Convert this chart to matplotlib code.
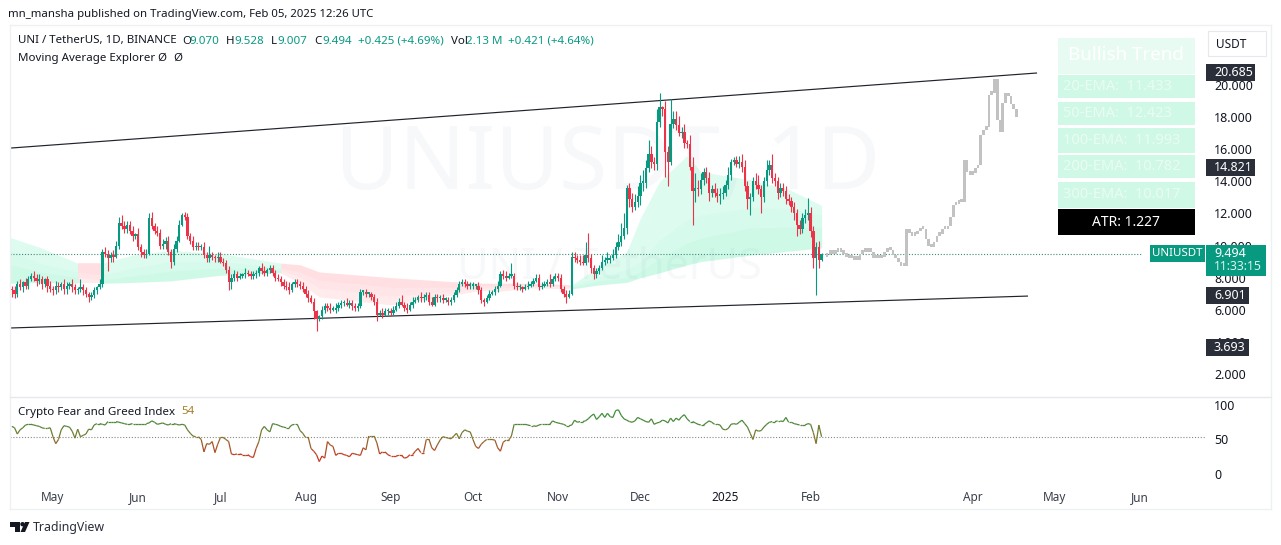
import numpy as np
import matplotlib
matplotlib.use("Agg")
import matplotlib.pyplot as plt
from matplotlib.collections import LineCollection
from matplotlib.colors import LinearSegmentedColormap, Normalize
from matplotlib.patches import Rectangle, Polygon, Circle
from matplotlib.transforms import Affine2D

plt.rcParams['font.family'] = ['Noto Sans', 'DejaVu Sans']

# ---------- data (day number counted from 1 May 2024) ----------
first_day = -15
first_open = 7.3
closes = [
 7.2,7.0,7.6,7.4,7.7,7.5,7.9,8.1,8.0,7.8,
 7.9,7.6,7.9,7.5,7.3,7.2,7.5,7.4,7.6,7.3,
 7.5,7.6,7.4,7.2,7.3,7.4,7.2,7.0,6.8,6.9,
 7.2,7.4,7.6,9.6,9.5,9.2,9.4,9.3,10.0,11.4,
 11.2,11.0,11.3,10.9,10.6,10.7,9.9,9.6,9.4,9.5,
 11.7,11.2,10.9,10.8,10.0,10.1,10.3,9.6,9.0,9.8,
 10.3,11.3,11.9,11.8,10.6,10.3,9.9,10.0,9.9,9.9,
 9.4,9.2,9.4,9.3,9.2,9.3,9.0,8.9,8.5,7.7,
 8.0,8.2,8.0,8.1,8.2,8.3,8.2,8.1,8.2,8.3,
 8.6,8.4,8.3,8.5,8.6,8.3,8.0,7.9,7.7,7.5,
 7.4,7.2,7.6,7.7,7.6,7.5,7.3,7.0,6.7,6.5,
 5.9,5.4,5.6,6.0,6.2,6.1,6.0,6.0,6.1,6.3,
 6.4,6.4,6.3,6.4,6.2,6.1,6.2,7.1,7.1,7.0,
 7.0,6.8,6.5,5.7,5.8,5.7,5.9,5.9,5.8,6.0,
 6.2,6.5,6.3,6.1,6.0,6.3,6.5,6.6,6.8,6.7,
 6.8,6.9,6.5,6.3,6.8,6.7,6.7,6.6,6.6,6.5,
 6.6,6.9,7.2,7.6,7.7,7.6,7.5,7.5,7.5,7.5,
 7.2,6.6,6.5,6.7,7.0,7.1,7.3,7.5,8.2,8.1,
 8.0,8.1,8.1,7.5,7.4,7.4,7.3,7.4,7.5,7.6,
 7.8,8.0,7.4,7.5,7.6,7.7,7.6,7.9,8.1,8.0,
 7.3,7.0,6.8,7.0,9.3,9.2,9.1,9.0,8.9,9.4,
 9.2,8.6,8.2,8.4,8.6,9.0,9.1,9.1,9.2,9.4,
 9.9,10.2,10.6,11.1,13.6,12.9,12.4,12.7,13.1,13.9,
 13.9,14.8,15.7,15.2,15.1,17.7,18.6,18.5,15.8,15.2,
 17.6,17.9,17.5,17.0,17.1,16.4,16.3,14.9,13.4,13.6,
 13.5,14.1,14.6,14.2,13.3,13.5,13.3,13.1,13.2,13.3,
 13.8,14.4,15.2,15.3,15.1,15.2,14.9,13.7,12.9,13.0,
 14.0,13.8,13.5,13.0,14.0,14.7,15.0,14.2,14.0,13.3,
 13.6,13.4,12.9,12.8,12.4,12.0,11.3,11.0,11.7,11.9,
 12.0,10.9,9.2,9.9,9.07,9.494]
wick_up = [
 .2,.3,.2,.3,.1,.3,.2,.2,.3,.2,
 .3,.2,.1,.2,.3,.2,.3,.2,.1,.3,
 .2,.1,.3,.2,.1,.5,.2,.2,.1,.2,
 .2,.1,.3,.2,.3,.2,.2,.3,.3,.4,
 .5,.3,.2,.2,.3,.1,.4,.2,.2,.3,
 .3,.4,.2,.3,.2,.3,.2,.3,.2,.3,
 .3,.3,.1,.2,.2,.2,.3,.2,.2,.2,
 .3,.2,.6,.2,.1,.3,.3,.2,.2,.2,
 .2,.3,.2,.2,.1,.3,.2,.2,.2,.2,
 .1,.3,.3,.1,.2,.2,.2,.2,.2,.2,
 .3,.3,.1,.2,.2,.2,.2,.2,.2,.2,
 .2,.1,.1,.2,.2,.2,.3,.2,.3,.2,
 .2,.2,.3,.2,.2,.2,.2,.2,.1,.2,
 .1,.1,.2,.2,.2,.3,.2,.2,.2,.2,
 .3,.2,.4,.2,.3,.2,.3,.2,.1,.3,
 .2,.2,.2,.3,.2,.2,.2,.3,.2,.2,
 .2,.2,.2,.2,.2,.2,.2,.2,.2,.1,
 .2,.2,.1,.2,.2,.1,.2,.3,.2,.3,
 .3,.2,.8,.2,.2,.2,.1,.2,.3,.2,
 .2,.2,.2,.2,.2,.2,.5,.2,.2,.2,
 .2,.2,.2,.2,.3,.3,.2,.3,.4,.8,
 1.4,.3,.2,.2,.2,.4,.2,.5,.2,.4,
 .3,.5,.8,.9,.2,.3,.4,.5,.6,.5,
 .8,.5,.9,.5,.3,.8,.9,.1,.5,.4,
 1.5,.5,.5,.6,.3,.5,.2,.6,.6,.9,
 .5,.4,.2,.3,.4,.3,.4,.3,.4,.4,
 .3,.5,.2,.2,.3,.4,.5,.4,.3,.3,
 .3,.5,.6,.3,.3,.6,.3,.7,.3,.3,
 .3,.3,.3,.3,.2,.3,.3,.3,.3,.4,
 .95,.4,.3,.3,.4,.03]
wick_dn = [
 .4,.3,.2,.2,.3,.2,.2,.1,.2,.3,
 .2,.3,.2,.4,.2,.3,.2,.3,.2,.3,
 .3,.2,.3,.2,.2,.2,.3,.2,.3,.2,
 .2,.2,.1,.2,.2,.8,.2,.3,.1,.2,
 .2,.2,.2,.2,.3,.2,.2,.3,.2,.2,
 .1,.2,.2,.2,.2,.2,.3,.2,.4,.2,
 .2,.1,.1,.2,.2,.2,.2,.2,.2,.2,
 .2,.2,.2,.2,.2,.2,.1,.2,.2,.5,
 .4,.2,.2,.1,.1,.2,.1,.2,.2,.2,
 .2,.2,.2,.2,.2,.2,.2,.1,.2,.2,
 .2,.2,.1,.2,.2,.2,.2,.2,.2,.1,
 .5,.7,.1,.2,.2,.2,.2,.1,.2,.2,
 .2,.2,.1,.2,.2,.2,.2,.1,.2,.2,
 .2,.2,.2,.4,.1,.2,.1,.2,.2,.1,
 .1,.1,.1,.2,.2,.1,.2,.1,.1,.2,
 .2,.2,.2,.1,.1,.2,.2,.2,.1,.2,
 .2,.1,.1,.1,.1,.2,.2,.2,.2,.2,
 .2,.2,.3,.1,.1,.1,.2,.2,.1,.2,
 .2,.1,.1,.2,.2,.2,.2,.1,.1,.1,
 .1,.1,.2,.1,.1,.1,.2,.1,.1,.2,
 .2,.2,.4,.1,.1,.2,.2,.2,.1,.1,
 .2,.3,.3,.2,.2,.1,.2,.2,.2,.1,
 .2,.2,.2,.2,.4,.5,.3,.2,.3,.6,
 .5,.3,.2,.4,.4,.4,.3,.4,1.5,1.5,
 .2,.3,.3,.2,.3,.3,.2,.2,2.1,.7,
 .4,.3,.3,.3,.5,.3,.3,.4,.5,.3,
 .2,.3,.3,.2,.2,.3,.3,.3,.6,1.0,
 .2,.3,.3,1.0,.3,.3,.3,.3,.3,.4,
 .3,.3,.3,.3,.3,.4,.7,.3,.2,.3,
 .3,.4,.6,2.3,.5,.06]

ghost_first_day = 282
ghost_first_open = 9.3
ghost_closes = [
 9.4,9.7,9.5,9.6,9.8,9.6,9.5,9.3,9.2,9.2,
 9.1,9.1,9.5,9.6,9.6,9.7,9.6,9.2,9.2,9.2,
 9.3,9.6,9.7,9.7,9.4,9.2,9.0,8.7,8.7,11.0,
 10.8,10.6,10.7,10.9,11.0,11.0,10.4,10.0,9.9,10.2,
 10.6,10.7,11.0,11.0,11.2,11.8,12.5,12.6,12.7,12.7,
 15.3,14.6,14.4,14.5,14.8,15.0,16.9,17.2,17.4,19.4,
 19.5,20.4,17.8,17.1,18.9,19.5,19.3,18.8,18.5,18.0]

ribbon_days = [-15.7,-5,9,18,29,43,61,83,90,97,123,145,156,163,174,189,199,209,214,221,231,236,254,268,280]
ribbon_upper = [10.5,9.9,8.9,8.9,9.4,9.7,9.5,8.9,8.8,8.35,8.0,7.75,7.65,7.65,7.65,7.55,8.7,9.6,11.7,14.0,15.6,14.6,14.1,13.5,12.5]
ribbon_mid1  = [9.7,8.9,8.35,8.15,8.6,9.0,9.0,8.6,8.35,7.85,7.4,7.4,7.5,7.5,7.55,7.5,8.05,8.5,9.0,10.35,11.6,11.9,12.35,12.3,11.9]
ribbon_mid2  = [8.8,8.35,8.0,7.85,8.1,8.4,8.6,8.45,8.05,7.35,6.85,7.15,7.35,7.35,7.5,7.4,7.8,8.0,8.35,9.2,10.15,10.45,11.1,11.15,11.1]
ribbon_lower = [7.65,7.7,7.65,7.65,7.7,7.8,8.15,8.3,7.65,6.8,6.3,6.9,7.2,7.15,7.35,7.3,7.55,7.7,8.0,8.3,8.8,9.0,9.4,9.65,9.85]
ribbon_zones = [(-15.7,9,'up'),(9,18,'down'),(18,83,'up'),(83,189,'down'),(189,280,'up')]

channel_days = [-15.66,358.5]
channel_upper = [16.07,20.75]
channel_low_days = [-15.66,355.2]
channel_lower = [4.86,6.85]

fear_greed = [
 69,67,58,64,67,71,72,72,71,70,
 69,67,66,66,67,54,44,50,64,70,
 69,68,62,52,65,54,56,58,65,64,
 71,73,73,72,71,76,76,76,76,75,
 74,73,72,72,73,73,73,73,73,73,
 74,77,75,72,73,74,72,71,73,73,
 72,71,72,71,64,59,55,54,54,50,
 32,44,43,47,31,43,53,53,50,47,
 29,28,29,29,28,28,28,25,24,37,
 47,64,69,64,61,73,72,71,69,68,
 67,67,71,72,72,63,59,53,53,37,
 33,28,18,26,23,47,42,40,27,30,
 30,28,27,25,30,29,28,27,38,35,
 55,55,55,45,29,32,32,28,26,26,
 26,27,27,23,24,28,28,33,37,31,
 31,50,50,38,34,42,49,54,53,52,
 51,55,59,51,60,64,62,61,50,40,
 37,43,47,50,50,50,49,38,33,46,
 49,49,55,72,72,72,72,72,71,70,
 70,69,71,72,72,72,72,77,75,74,
 73,72,70,70,71,78,75,76,76,77,
 80,84,87,79,83,88,82,88,83,82,
 92,93,85,80,78,76,75,77,82,80,
 78,76,75,80,72,74,75,78,77,74,
 81,76,81,78,83,86,80,76,76,74,
 72,71,71,74,77,75,72,72,71,65,
 64,66,72,73,72,75,78,73,68,59,
 50,64,62,63,68,72,75,76,76,77,
 77,76,82,75,75,73,72,71,71,71,
 73,72,60,44,71,54]

price_ticks = [2,4,6,8,10,12,14,16,18,20]
price_tick_labels = ['2.000','4.000','6.000','8.000','10.000','12.000','14.000','16.000','18.000','20.000']
fg_ticks = [0,50,100]
time_ticks = [0,31,61,92,123,153,184,214,245,276,335,365,396]
time_labels = ['May','Jun','Jul','Aug','Sep','Oct','Nov','Dec','2025','Feb','Apr','May','Jun']
last_price = 9.494
last_fg = 54
ema_rows = ['20-EMA:  11.433','50-EMA:  12.423','100-EMA:  11.993','200-EMA:  10.782','300-EMA:  10.017']

# ---------- layout ----------
W, H = 1281, 545
GREEN, RED, INK = '#089981', '#ee3348', '#131722'
fig = plt.figure(figsize=(W/100, H/100), dpi=100, facecolor='white')
pix = Affine2D().scale(1/W, -1/H).translate(0, 1) + fig.transFigure

def axes_px(x0, y0, x1, y1):
    return fig.add_axes([x0/W, 1-y1/H, (x1-x0)/W, (y1-y0)/H])

ax = axes_px(10, 25, 1206, 396)
sub = axes_px(10, 397, 1206, 484)
xlim = (-15.66, 420.04)
for a in (ax, sub):
    a.set_xlim(*xlim)
    a.patch.set_alpha(0)
    for s in a.spines.values():
        s.set_visible(False)
ax.set_ylim(0.623, 23.74)
sub.set_ylim(-14.5, 111.6)

# watermark
ax.text(608, 166, 'UNIUSDT, 1D', transform=pix, fontsize=63, color='#f7f8fa', ha='center', va='center', zorder=0.2)
ax.text(609, 268, 'UNI / TetherUS', transform=pix, fontsize=31, color='#f7f8fa', ha='center', va='center', zorder=0.2)

# ribbon
days_r = np.array(ribbon_days)
up, m1, m2, lo = map(np.array, (ribbon_upper, ribbon_mid1, ribbon_mid2, ribbon_lower))
for start, end, kind in ribbon_zones:
    m = (days_r >= start) & (days_r <= end)
    if kind == 'up':
        layers = [(up, lo, 0.13), (m1, lo, 0.035), (m2, lo, 0.035)]
        col = '#00e68a'
    else:
        layers = [(up, lo, 0.10), (up, m2, 0.03), (up, m1, 0.03)]
        col = '#ff3d4d'
    for a_, b_, al in layers:
        ax.fill_between(days_r[m], a_[m], b_[m], color=col, alpha=al, lw=0, zorder=1)

# channel
ax.plot(channel_days, channel_upper, color='#20232b', lw=0.85, zorder=2, solid_capstyle='butt')
ax.plot(channel_low_days, channel_lower, color='#20232b', lw=0.85, zorder=2, solid_capstyle='butt')

# last price line
ax.hlines(last_price, xlim[0], 396.5, color='#3f8a7a', lw=0.8, linestyles=(0, (1, 1.6)), zorder=1.5)

# candles
c = np.array(closes)
o = np.r_[first_open, c[:-1]]
d = first_day + np.arange(len(c))
hi = np.maximum(o, c) + np.array(wick_up)
lw_ = np.minimum(o, c) - np.array(wick_dn)
cols = np.where(c >= o, GREEN, RED)
ax.vlines(d, lw_, hi, colors=cols, lw=0.8, zorder=3)
ax.bar(d, np.maximum(np.abs(c-o), 0.1), bottom=np.minimum(o, c), width=0.85, color=cols, lw=0, zorder=3.1)

# projected grey candles
gc = np.array(ghost_closes)
go = np.r_[ghost_first_open, gc[:-1]]
gd = ghost_first_day + np.arange(len(gc))
ax.bar(gd, np.maximum(np.abs(gc-go), 0.22), bottom=np.minimum(go, gc), width=0.95, color='#c2c2c2', lw=0, zorder=3)

# axes ticks
ax.yaxis.tick_right()
ax.set_yticks(price_ticks)
ax.set_yticklabels(price_tick_labels)
ax.set_xticks([])
ax.tick_params(axis='y', length=0, pad=6, labelsize=9, labelcolor=INK)

sub.yaxis.tick_right()
sub.set_yticks(fg_ticks)
sub.tick_params(axis='y', length=0, pad=6, labelsize=9, labelcolor=INK)
sub.set_xticks(time_ticks)
sub.set_xticklabels(time_labels)
sub.tick_params(axis='x', length=0, pad=5, labelsize=8.5, labelcolor='#3a3f4b')
for lab, txt in zip(sub.get_xticklabels(), time_labels):
    if txt == '2025':
        lab.set_fontweight('bold')
        lab.set_color(INK)

# fear & greed
fg = np.array(fear_greed, float)
fd = first_day + np.arange(len(fg))
pts = np.column_stack([fd, fg])
segs = np.stack([pts[:-1], pts[1:]], axis=1)
cmap = LinearSegmentedColormap.from_list('fg', ['#c8381f', '#a8562a', '#7d7a30', '#55853a', '#3f8f3c'])
lc = LineCollection(segs, cmap=cmap, norm=Normalize(25, 85), lw=0.9, zorder=3)
lc.set_array((fg[:-1] + fg[1:]) / 2)
sub.add_collection(lc)
sub.axhline(last_fg, color='#8a8a80', lw=0.8, ls=(0, (1, 1.6)), zorder=1)

# frame lines
def fline(xs, ys, col='#eef0f4', lw=1):
    fig.add_artist(plt.Line2D(xs, ys, transform=pix, color=col, lw=lw))
fline([10, 1271], [25, 25]); fline([10, 1271], [509, 509])
fline([10, 10], [25, 509]); fline([1271, 1271], [25, 509])
fline([10, 1271], [396.5, 396.5], '#e6e8ee')

def ftext(x, y, s, size=8.5, color=INK, ha='left', weight='normal'):
    return fig.text(x, y, s, transform=pix, fontsize=size, color=color, ha=ha, va='center', fontweight=weight, zorder=6)

def box(x0, y0, x1, y1, fc, ec='none', z=5):
    fig.add_artist(Rectangle((x0, y0), x1-x0, y1-y0, transform=pix, fc=fc, ec=ec, lw=0.8, zorder=z))

# header text
ftext(8, 15, 'mn_mansha published on TradingView.com, Feb 05, 2025 12:26 UTC', 8.2)
ftext(18, 41, 'UNI / TetherUS, 1D, BINANCE', 8.3)
for x, s, col in [(182, 'O', INK), (189, '9.070', GREEN), (226, 'H', INK), (234, '9.528', GREEN),
                  (271, 'L', INK), (277, '9.007', GREEN), (314, 'C', INK), (322, '9.494', GREEN),
                  (358, '+0.425 (+4.69%)', GREEN), (451, 'Vol', INK), (466, '2.13 M', GREEN),
                  (508, '+0.421 (+4.64%)', GREEN)]:
    ftext(x, 41, s, 8.3, col)
ftext(18, 58, 'Moving Average Explorer', 8.3)
ftext(157, 58, 'Ø', 8.3); ftext(173, 58, 'Ø', 8.3)
ftext(18, 412, 'Crypto Fear and Greed Index', 8.3)
ftext(181, 412, str(last_fg), 8.3, '#a5802a')

# info table
MINT = '#cff8e6'
box(1058, 38, 1195, 74, '#e8fbf3')
ftext(1126, 55, 'Bullish Trend', 13.5, 'white', 'center', 'bold')
row_spans = [(75, 98), (102, 125), (128, 153), (155, 178), (182, 208)]
for (y0, y1), s in zip(row_spans, ema_rows):
    box(1058, y0, 1195, y1, MINT)
    ftext(1063, (y0+y1)/2, s, 10.5, '#eafcf4')
box(1058, 209, 1195, 235, 'black')
ftext(1126, 222, 'ATR: 1.227', 10, 'white', 'center', 'bold')

# currency button
box(1208, 31, 1266, 56, 'white', '#e6e8ee')
ftext(1231, 44, 'USDT', 8.5, INK, 'center')

# price badges
DARK = '#2a2e39'
for y0, x1, s in [(64, 1255, '20.685'), (159, 1255, '14.821'), (287, 1249, '6.901'), (339, 1249, '3.693')]:
    box(1206, y0, x1, y0+17, DARK)
    ftext(1214, y0+8.5, s, 9, 'white')
box(1150, 245, 1205, 262, GREEN)
ftext(1177.5, 253.5, 'UNIUSDT', 8.3, 'white', 'center', 'bold')
box(1206, 245, 1266, 276, GREEN)
ftext(1214, 253.5, '9.494', 9, 'white')
ftext(1214, 267, '11:33:15', 8.8, '#d8f3ec')

# logo
ink = '#131722'
fig.add_artist(Polygon([(10, 522), (20, 522), (20, 532), (15, 532), (15, 526.5), (10, 526.5)], closed=True, transform=pix, fc=ink, ec='none', zorder=6))
fig.add_artist(Circle((22.5, 524.2), 2.2, transform=pix, fc=ink, ec='none', zorder=6))
fig.add_artist(Polygon([(25, 522), (29.5, 522), (25, 532), (20.5, 532)], closed=True, transform=pix, fc=ink, ec='none', zorder=6))
ftext(33, 527, 'TradingView', 8.9, '#2a2e39')

fig.savefig('out.png', dpi=100, facecolor='white')
